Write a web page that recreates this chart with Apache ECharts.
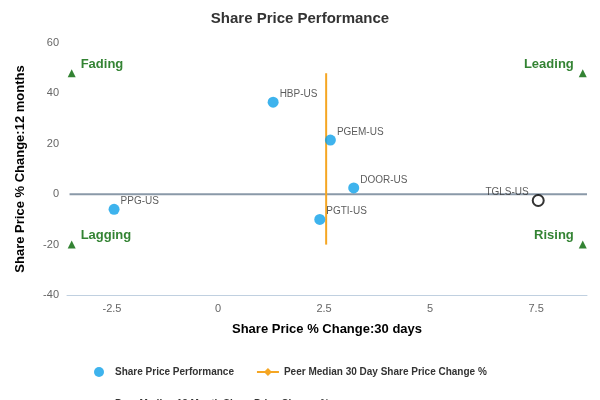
<!DOCTYPE html>
<html><head><meta charset="utf-8">
<script src="https://cdn.jsdelivr.net/npm/echarts@6/dist/echarts.min.js"></script>
<style>html,body{margin:0;padding:0}#c{width:600px;height:400px}</style>
</head><body><div id="c"></div>
<script>
const names = ['PPG-US','HBP-US','PGEM-US','DOOR-US','PGTI-US'];
const xVals = [-2.45, 1.3, 2.65, 3.2, 2.4];
const yVals = [-6, 36.5, 21.5, 2.5, -10];
const focusName = 'TGLS-US';
const focusPoint = [7.55, -2.5];
const medianX = 2.55;
const medianY = 0;
const quadNames = ['Fading','Leading','Lagging','Rising'];
const quadPoints = [[-3.45,48],[8.6,48],[-3.45,-20],[8.6,-20]];
const xTicks = [-2.5, 0, 2.5, 5, 7.5];

const chart = echarts.init(document.getElementById('c'));
const font = 'Arial, Liberation Sans, sans-serif';
chart.setOption({
  animation:false,
  title:{text:'Share Price Performance',left:'center',top:6,textStyle:{fontSize:15,fontWeight:'bold',color:'#333',fontFamily:font}},
  grid:{left:67,right:13,top:43,bottom:105},
  xAxis:{type:'value',min:-3.56,max:8.7,name:'Share Price % Change:30 days',nameLocation:'middle',nameGap:28,
    nameTextStyle:{fontWeight:'bold',fontSize:13,color:'#000',fontFamily:font},
    axisLine:{show:true,onZero:false,lineStyle:{color:'#c0d0e0'}},axisTick:{show:false},splitLine:{show:false},
    axisLabel:{customValues:xTicks,color:'#666',fontSize:11,fontFamily:font}},
  yAxis:{type:'value',min:-40,max:60,interval:20,name:'Share Price % Change:12 months',nameLocation:'middle',nameGap:40,
    nameTextStyle:{fontWeight:'bold',fontSize:13,color:'#000',fontFamily:font},
    axisLine:{show:false},axisTick:{show:false},splitLine:{show:false},
    axisLabel:{color:'#666',fontSize:11,fontFamily:font}},
  legend:{top:362,left:82,width:470,itemGap:22,itemWidth:22,itemHeight:10,
    textStyle:{fontSize:10,fontWeight:'bold',color:'#333',fontFamily:font},
    data:[{name:'Share Price Performance',icon:'circle'},{name:'Peer Median 30 Day Share Price Change %'},{name:'Peer Median 12 Month Share Price Change %'}]},
  series:[
    {name:'Share Price Performance',type:'scatter',symbolSize:11,itemStyle:{color:'#0ea0e8'},
      data:names.map((n,i)=>({name:n,value:[xVals[i],yVals[i]]})),
      label:{show:true,formatter:'{b}',position:'right',offset:[-4,-8],fontSize:10,color:'#333',fontFamily:font},z:5},
    {name:'Focus',type:'scatter',symbolSize:11,itemStyle:{color:'#fff',borderColor:'#000',borderWidth:2},
      data:[{name:focusName,value:focusPoint}],
      label:{show:true,formatter:'{b}',position:'left',offset:[2,-8],fontSize:10,color:'#333',fontFamily:font},z:6},
    {name:'Peer Median 30 Day Share Price Change %',type:'line',symbol:'diamond',showSymbol:false,
      itemStyle:{color:'#f5a623'},lineStyle:{color:'#f5a623',width:2},data:[[medianX,-20],[medianX,48]],z:3},
    {name:'Peer Median 12 Month Share Price Change %',type:'line',symbol:'rect',showSymbol:false,
      itemStyle:{color:'#8a99a8'},lineStyle:{color:'#8a99a8',width:2},data:[[-3.5,medianY],[8.7,medianY]],z:2},
    {name:'Quad',type:'scatter',symbol:'triangle',symbolSize:8,itemStyle:{color:'#006400'},
      data:quadNames.map((n,i)=>({name:n,value:quadPoints[i],
        label:{position:i%2===0?'right':'left',offset:[0,-9]}})),
      label:{show:true,formatter:'{b}',fontSize:13,fontWeight:'bold',color:'#006400',fontFamily:font}}
  ]
});
</script></body></html>
